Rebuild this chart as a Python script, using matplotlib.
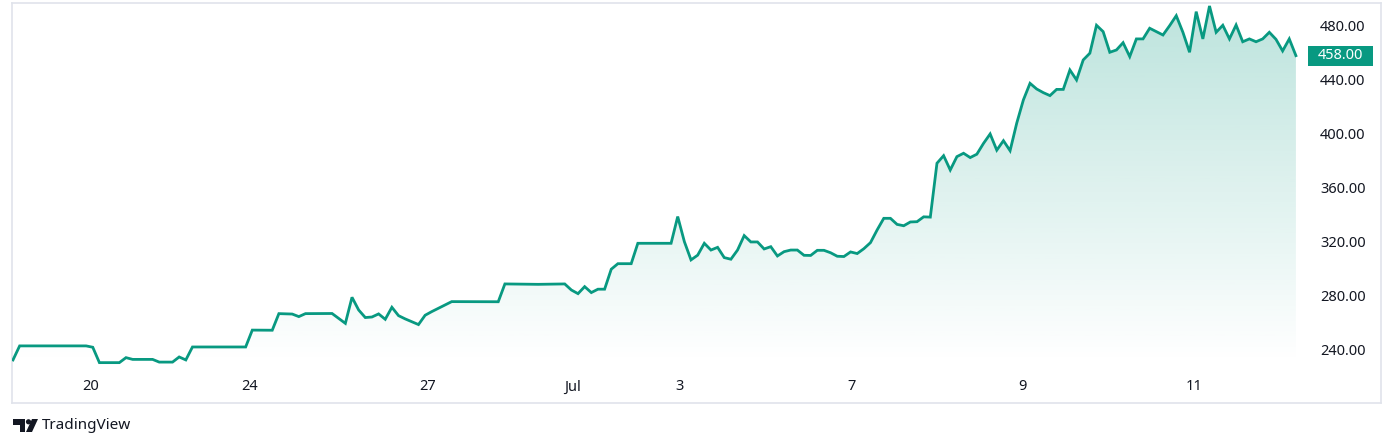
import matplotlib.pyplot as plt
import matplotlib.transforms as mtransforms
from matplotlib.patches import Rectangle, Polygon, Circle
import numpy as np

plt.rcParams['font.family'] = ['Noto Sans', 'DejaVu Sans']

# bar index and closing price (only the turning points of the line)
bars = [0, 1, 11, 12, 13, 16, 17, 18, 21, 22, 24, 25, 26, 27, 35, 36, 39,
        40, 42, 43, 44, 48, 50, 51, 52, 53, 54, 55, 56, 57, 58, 59, 61, 62,
        63, 66, 73, 74, 79, 83, 84, 85, 86, 87, 88, 89, 90, 91, 93, 94, 99,
        100, 101, 102, 103, 104, 105, 106, 107, 108, 109, 110, 111, 112,
        113, 114, 115, 116, 117, 118, 119, 120, 121, 122, 123, 124, 125,
        126, 127, 128, 129, 130, 131, 132, 133, 134, 135, 136, 137, 138,
        139, 140, 141, 142, 143, 144, 145, 146, 147, 148, 149, 150, 151,
        152, 153, 154, 155, 156, 157, 158, 159, 160, 161, 162, 163, 164,
        165, 166, 167, 168, 169, 170, 171, 172, 173, 174, 175, 176, 177,
        178, 179, 180, 181, 182, 183, 184, 185, 186, 187, 188, 189, 190,
        191, 192, 193]
price = [232.6, 243.0, 243.0, 242.0, 230.6, 230.6, 234.3, 233.0, 233.0,
         231.0, 231.0, 234.8, 232.6, 242.2, 242.2, 254.7, 254.6,
         266.9, 266.6, 264.7, 266.9, 267.0, 259.7, 279.0, 269.6, 264.0,
         264.4, 266.7, 262.7, 271.6, 265.4, 263.0, 258.8, 265.7,
         268.4, 275.8, 275.7, 288.9, 288.6, 288.9, 284.4, 281.7, 286.9,
         282.5, 285.0, 285.0, 299.8, 303.9, 303.9, 319.0, 319.0,
         338.8, 320.2, 306.7, 310.2, 319.0, 314.0, 316.0, 308.4, 307.2,
         314.0, 324.7, 320.0, 320.0, 314.8, 316.5, 309.6, 312.8, 314.0,
         314.0, 310.1, 310.0, 313.8, 313.8, 312.0, 309.4, 309.2,
         312.6, 311.4, 315.0, 319.5, 328.9, 337.5, 337.5, 333.0, 332.0,
         334.8, 335.0, 338.6, 338.4, 378.3, 383.9, 373.3, 383.2, 385.7,
         382.5, 385.0, 393.0, 400.0, 388.0, 395.0, 387.6, 408.0,
         425.2, 437.5, 433.3, 430.6, 428.4, 433.0, 433.0, 447.4, 440.0,
         454.8, 459.8, 480.5, 475.8, 460.5, 462.2, 467.6, 457.3, 470.4,
         470.4, 478.3, 475.8, 473.3, 480.2, 487.6, 475.3, 460.5,
         490.6, 470.4, 494.8, 475.3, 480.5, 470.4, 480.7, 468.3, 470.4,
         468.3, 470.4, 475.3, 470.1, 461.5, 470.4, 458.0]

day_bars = [11.7, 35.6, 62.4, 84.2, 100.3, 126.2, 151.9, 177.7]
day_labels = ['20', '24', '27', 'Jul', '3', '7', '9', '11']
price_ticks = [240, 280, 320, 360, 400, 440, 480]

green = '#089981'
text_col = '#131722'
frame_col = '#e0e3eb'

fig = plt.figure(figsize=(13.94, 4.47), dpi=100)
W, H = 1394, 447
ax = fig.add_axes([12 / W, 1 - 403 / H, 1369 / W, 400 / H])

ax.plot(bars, price, color=green, lw=2.0, solid_joinstyle='miter', zorder=3)

# gradient area under the line
bottom = min(price)
poly = ax.fill_between(bars, price, bottom, color='none', lw=0)
grad = np.zeros((256, 1, 4))
grad[:, 0, :3] = [8 / 255, 153 / 255, 129 / 255]
grad[:, 0, 3] = np.linspace(0.27, 0.0, 256)
im = ax.imshow(grad, aspect='auto', origin='upper',
               extent=[bars[0], bars[-1], bottom, max(price)], zorder=2)
im.set_clip_path(poly.get_paths()[0], transform=ax.transData)

ax.set_xlim(-0.15, 205.8)
ax.set_ylim(200.7, 497.0)

ax.set_xticks(day_bars)
ax.set_xticklabels(day_labels)
ax.set_yticks(price_ticks)
ax.set_yticklabels([f'{v:.2f}' for v in price_ticks])
ax.tick_params(axis='x', length=0, pad=-17, labelsize=10.5, labelcolor=text_col)
ax.tick_params(axis='y', length=0, left=False, right=True, labelleft=False,
               labelright=True, pad=-44, labelsize=10.5, labelcolor=text_col)
for lab in ax.get_xticklabels():
    if lab.get_text() == 'Jul':
        lab.set_fontweight('bold')

for spine in ax.spines.values():
    spine.set_edgecolor(frame_col)
    spine.set_linewidth(1.2)

# last price marker
last = price[-1]
trans = mtransforms.blended_transform_factory(ax.transAxes, ax.transData)
ax.add_patch(Rectangle((0.947, last - 7.4), 0.0468, 14.8, transform=trans,
                       facecolor=green, edgecolor='none', zorder=4,
                       clip_on=False))
ax.text(0.9704, last, f'{last:.2f}', transform=trans, color='white',
        fontsize=10.5, ha='center', va='center', zorder=5)

# TradingView footer
pix = mtransforms.Affine2D().scale(1, -1).translate(0, H)
fig.patches.append(Polygon([(13, 419), (25, 419), (25, 432), (19.5, 432),
                            (19.5, 424.5), (13, 424.5)], closed=True,
                           transform=pix, facecolor=text_col))
fig.patches.append(Circle((28.5, 421.8), 2.6, transform=pix,
                          facecolor=text_col))
fig.patches.append(Polygon([(32, 419), (38, 419), (32, 432), (26, 432)],
                           closed=True, transform=pix, facecolor=text_col))
fig.text(42 / W, 1 - 425.5 / H, 'TradingView', fontsize=11, color=text_col,
         va='center', ha='left')

fig.savefig('out.png', dpi=100, facecolor='white')
